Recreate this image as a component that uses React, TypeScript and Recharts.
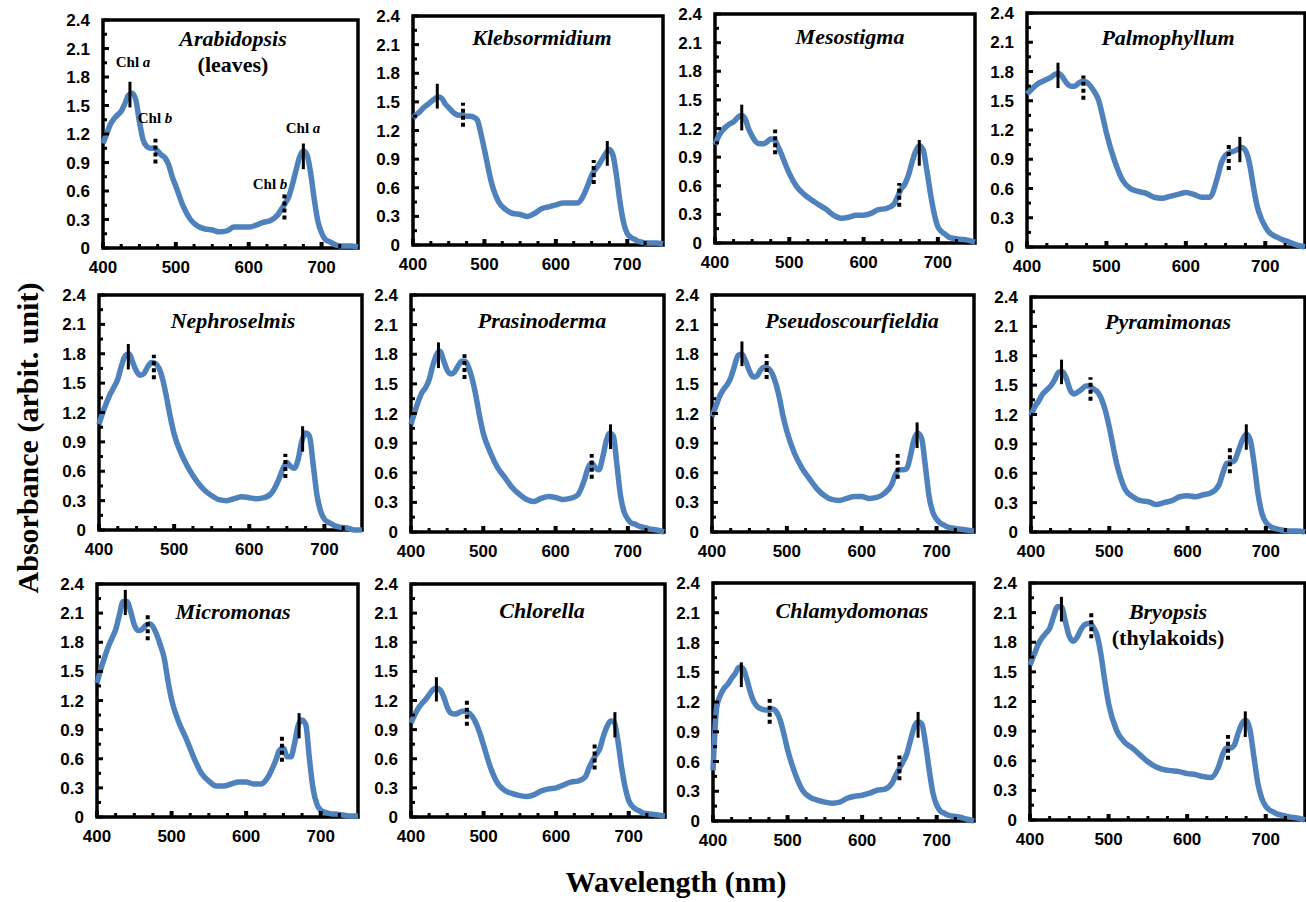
import React from 'react';
import { LineChart, Line, XAxis, YAxis, ReferenceArea, ReferenceLine } from 'recharts';

document.body.style.margin = '0';

// wavelength grid (nm) shared by every spectrum
const wavelengths = [
  400, 405, 410, 415, 420, 425, 430, 435, 440, 445, 450, 455, 460, 465, 470, 475, 480, 485, 490, 495, 500,
  510, 520, 530, 540, 550, 560, 570, 580, 590, 600, 610, 620, 630, 640,
  645, 650, 655, 660, 665, 670, 675, 680, 685, 690, 695, 700, 705, 710, 715, 720,
  730, 740, 750,
];

const arabidopsis = [
  1.10, 1.20, 1.30, 1.36, 1.40, 1.44, 1.52, 1.61, 1.63, 1.56, 1.33, 1.14, 1.07, 1.05, 1.05, 1.02, 0.98, 0.95, 0.88, 0.75, 0.65,
  0.44, 0.30, 0.23, 0.20, 0.19, 0.17, 0.18, 0.22, 0.22, 0.22, 0.24, 0.27, 0.29, 0.35,
  0.41, 0.47, 0.54, 0.67, 0.82, 0.96, 1.02, 0.98, 0.79, 0.51, 0.28, 0.16, 0.09, 0.07, 0.05, 0.03,
  0.02, 0.02, 0.01,
];
const klebsormidium = [
  1.33, 1.37, 1.40, 1.44, 1.47, 1.50, 1.53, 1.55, 1.54, 1.48, 1.44, 1.40, 1.37, 1.36, 1.36, 1.35, 1.35, 1.34, 1.31, 1.17, 1.00,
  0.65, 0.45, 0.37, 0.33, 0.32, 0.30, 0.33, 0.38, 0.40, 0.42, 0.44, 0.44, 0.44, 0.54,
  0.63, 0.73, 0.79, 0.84, 0.90, 0.96, 1.00, 0.94, 0.72, 0.44, 0.23, 0.12, 0.08, 0.06, 0.04, 0.03,
  0.02, 0.02, 0.01,
];
const mesostigma = [
  1.03, 1.12, 1.18, 1.22, 1.25, 1.27, 1.31, 1.34, 1.31, 1.20, 1.12, 1.06, 1.04, 1.04, 1.06, 1.09, 1.08, 1.01, 0.92, 0.82, 0.73,
  0.59, 0.51, 0.45, 0.40, 0.35, 0.29, 0.26, 0.27, 0.29, 0.29, 0.31, 0.35, 0.36, 0.40,
  0.47, 0.56, 0.61, 0.70, 0.84, 0.96, 1.02, 0.98, 0.77, 0.52, 0.31, 0.17, 0.12, 0.09, 0.06, 0.05,
  0.04, 0.03, 0.01,
];
const palmophyllum = [
  1.57, 1.61, 1.65, 1.68, 1.70, 1.72, 1.74, 1.77, 1.78, 1.74, 1.68, 1.65, 1.65, 1.68, 1.70, 1.69, 1.65, 1.59, 1.51, 1.35, 1.17,
  0.89, 0.69, 0.60, 0.57, 0.55, 0.51, 0.50, 0.52, 0.54, 0.56, 0.54, 0.51, 0.51, 0.72,
  0.87, 0.94, 0.97, 0.98, 1.00, 1.02, 0.99, 0.86, 0.62, 0.41, 0.29, 0.21, 0.15, 0.12, 0.10, 0.08,
  0.05, 0.02, 0.00,
];
const nephroselmis = [
  1.08, 1.20, 1.30, 1.39, 1.46, 1.54, 1.68, 1.78, 1.80, 1.71, 1.62, 1.58, 1.60, 1.67, 1.71, 1.70, 1.65, 1.53, 1.35, 1.15, 0.98,
  0.77, 0.62, 0.50, 0.41, 0.35, 0.31, 0.30, 0.32, 0.34, 0.33, 0.32, 0.33, 0.38, 0.53,
  0.63, 0.69, 0.65, 0.63, 0.72, 0.91, 0.99, 0.96, 0.67, 0.36, 0.19, 0.11, 0.08, 0.06, 0.04, 0.03,
  0.02, 0.00, 0.00,
];
const prasinoderma = [
  1.09, 1.21, 1.32, 1.41, 1.46, 1.54, 1.68, 1.79, 1.83, 1.74, 1.64, 1.60, 1.62, 1.68, 1.73, 1.73, 1.66, 1.54, 1.37, 1.17, 1.00,
  0.80, 0.65, 0.55, 0.45, 0.38, 0.33, 0.31, 0.34, 0.36, 0.35, 0.33, 0.34, 0.37, 0.53,
  0.65, 0.70, 0.65, 0.63, 0.75, 0.92, 1.00, 0.97, 0.67, 0.36, 0.20, 0.13, 0.09, 0.08, 0.06, 0.05,
  0.03, 0.02, 0.00,
];
const pseudoscourfieldia = [
  1.17, 1.27, 1.37, 1.44, 1.49, 1.56, 1.68, 1.79, 1.80, 1.73, 1.63, 1.57, 1.58, 1.64, 1.67, 1.66, 1.61, 1.51, 1.36, 1.17, 1.02,
  0.80, 0.65, 0.54, 0.44, 0.37, 0.33, 0.32, 0.34, 0.36, 0.36, 0.34, 0.35, 0.39, 0.48,
  0.58, 0.63, 0.63, 0.64, 0.77, 0.94, 1.00, 0.95, 0.67, 0.36, 0.20, 0.13, 0.09, 0.07, 0.05, 0.04,
  0.03, 0.02, 0.01,
];
const pyramimonas = [
  1.19, 1.28, 1.34, 1.41, 1.45, 1.49, 1.55, 1.63, 1.64, 1.57, 1.45, 1.41, 1.43, 1.46, 1.49, 1.49, 1.46, 1.43, 1.36, 1.24, 1.07,
  0.68, 0.44, 0.36, 0.32, 0.31, 0.28, 0.30, 0.32, 0.36, 0.37, 0.36, 0.38, 0.40, 0.48,
  0.60, 0.70, 0.71, 0.73, 0.83, 0.94, 1.00, 0.94, 0.70, 0.39, 0.19, 0.10, 0.06, 0.04, 0.03, 0.02,
  0.01, 0.01, 0.00,
];
const micromonas = [
  1.38, 1.52, 1.64, 1.75, 1.84, 1.93, 2.08, 2.22, 2.22, 2.12, 1.98, 1.92, 1.93, 1.97, 1.99, 1.96, 1.88, 1.77, 1.64, 1.41, 1.21,
  0.97, 0.80, 0.61, 0.45, 0.37, 0.32, 0.32, 0.34, 0.36, 0.36, 0.34, 0.34, 0.42, 0.59,
  0.69, 0.71, 0.62, 0.62, 0.76, 0.95, 1.00, 0.95, 0.59, 0.28, 0.13, 0.07, 0.05, 0.04, 0.03, 0.03,
  0.02, 0.01, 0.01,
];
const chlorella = [
  0.97, 1.05, 1.12, 1.17, 1.21, 1.26, 1.31, 1.33, 1.31, 1.24, 1.13, 1.07, 1.06, 1.07, 1.09, 1.09, 1.07, 1.03, 0.96, 0.86, 0.74,
  0.50, 0.34, 0.27, 0.24, 0.22, 0.21, 0.23, 0.27, 0.29, 0.30, 0.33, 0.36, 0.37, 0.41,
  0.50, 0.58, 0.64, 0.70, 0.83, 0.93, 0.99, 0.98, 0.79, 0.52, 0.31, 0.17, 0.11, 0.08, 0.06, 0.04,
  0.03, 0.02, 0.01,
];
const chlamydomonas = [
  0.51, 1.15, 1.27, 1.34, 1.38, 1.44, 1.49, 1.55, 1.54, 1.44, 1.30, 1.20, 1.15, 1.13, 1.12, 1.12, 1.13, 1.10, 1.02, 0.88, 0.72,
  0.48, 0.31, 0.24, 0.21, 0.19, 0.18, 0.19, 0.23, 0.25, 0.26, 0.28, 0.31, 0.32, 0.38,
  0.46, 0.53, 0.60, 0.68, 0.82, 0.95, 1.00, 0.98, 0.78, 0.51, 0.28, 0.16, 0.10, 0.08, 0.06, 0.05,
  0.04, 0.02, 0.00,
];
const bryopsis = [
  1.57, 1.67, 1.77, 1.84, 1.89, 1.94, 2.06, 2.16, 2.16, 2.01, 1.86, 1.81, 1.85, 1.93, 1.98, 1.99, 1.96, 1.88, 1.69, 1.42, 1.18,
  0.91, 0.79, 0.73, 0.66, 0.59, 0.54, 0.51, 0.50, 0.49, 0.47, 0.46, 0.44, 0.43, 0.54,
  0.66, 0.73, 0.73, 0.76, 0.88, 0.98, 1.01, 0.91, 0.64, 0.37, 0.22, 0.14, 0.10, 0.08, 0.06, 0.05,
  0.03, 0.02, 0.00,
];

// peak markers: [wavelength, low, high, dotted(1) = Chl b]
type Marker = [number, number, number, number];
const arabidopsisMarks: Marker[] = [[437, 1.48, 1.75, 0], [472, 0.89, 1.15, 1], [649, 0.30, 0.57, 1], [675, 0.83, 1.10, 0]];
const klebsormidiumMarks: Marker[] = [[434, 1.43, 1.69, 0], [470, 1.24, 1.49, 1], [653, 0.64, 0.89, 1], [672, 0.83, 1.09, 0]];
const mesostigmaMarks: Marker[] = [[436, 1.18, 1.45, 0], [481, 0.93, 1.19, 1], [648, 0.38, 0.63, 1], [675, 0.81, 1.08, 0]];
const palmophyllumMarks: Marker[] = [[439, 1.63, 1.89, 0], [471, 1.51, 1.76, 1], [654, 0.79, 1.05, 1], [668, 0.87, 1.13, 0]];
const nephroselmisMarks: Marker[] = [[439, 1.64, 1.90, 0], [473, 1.54, 1.79, 1], [648, 0.53, 0.78, 1], [671, 0.80, 1.06, 0]];
const prasinodermaMarks: Marker[] = [[438, 1.66, 1.92, 0], [474, 1.55, 1.80, 1], [650, 0.54, 0.79, 1], [676, 0.84, 1.09, 0]];
const pseudoscourfieldiaMarks: Marker[] = [[440, 1.68, 1.93, 0], [473, 1.55, 1.80, 1], [648, 0.54, 0.79, 1], [674, 0.85, 1.11, 0]];
const pyramimonasMarks: Marker[] = [[439, 1.51, 1.76, 0], [476, 1.34, 1.58, 1], [654, 0.60, 0.86, 1], [675, 0.84, 1.10, 0]];
const micromonasMarks: Marker[] = [[438, 2.08, 2.34, 0], [468, 1.82, 2.08, 1], [648, 0.57, 0.83, 1], [671, 0.81, 1.07, 0]];
const chlorellaMarks: Marker[] = [[435, 1.19, 1.44, 0], [477, 0.94, 1.20, 1], [653, 0.49, 0.75, 1], [681, 0.82, 1.08, 0]];
const chlamydomonasMarks: Marker[] = [[438, 1.35, 1.60, 0], [476, 0.98, 1.23, 1], [650, 0.41, 0.66, 1], [675, 0.84, 1.10, 0]];
const bryopsisMarks: Marker[] = [[440, 2.01, 2.26, 0], [478, 1.84, 2.10, 1], [652, 0.61, 0.86, 1], [674, 0.84, 1.10, 0]];

const xTicks = [400, 425, 450, 475, 500, 525, 550, 575, 600, 625, 650, 675, 700, 725];
const yTicks = [0, 0.15, 0.3, 0.45, 0.6, 0.75, 0.9, 1.05, 1.2, 1.35, 1.5, 1.65, 1.8, 1.95, 2.1, 2.25, 2.4];

// layout: plot box [left, top, right, bottom] and title centre in page pixels
const panels = [
  { name: 'Arabidopsis', sub: '(leaves)', values: arabidopsis, marks: arabidopsisMarks, box: [103, 20, 358, 248], t: [233, 39] },
  { name: 'Klebsormidium', values: klebsormidium, marks: klebsormidiumMarks, box: [413, 16, 663, 245], t: [542, 38] },
  { name: 'Mesostigma', values: mesostigma, marks: mesostigmaMarks, box: [715, 14, 975, 243], t: [850, 37] },
  { name: 'Palmophyllum', values: palmophyllum, marks: palmophyllumMarks, box: [1027, 13, 1305, 247], t: [1168, 38] },
  { name: 'Nephroselmis', values: nephroselmis, marks: nephroselmisMarks, box: [99, 295, 362, 530], t: [233, 321] },
  { name: 'Prasinoderma', values: prasinoderma, marks: prasinodermaMarks, box: [411, 295, 664, 532], t: [542, 321] },
  { name: 'Pseudoscourfieldia', values: pseudoscourfieldia, marks: pseudoscourfieldiaMarks, box: [712, 295, 974, 532], t: [852, 321] },
  { name: 'Pyramimonas', values: pyramimonas, marks: pyramimonasMarks, box: [1031, 297, 1305, 532], t: [1168, 322] },
  { name: 'Micromonas', values: micromonas, marks: micromonasMarks, box: [97, 584, 358, 817], t: [233, 612] },
  { name: 'Chlorella', values: chlorella, marks: chlorellaMarks, box: [411, 584, 665, 817], t: [542, 611] },
  { name: 'Chlamydomonas', values: chlamydomonas, marks: chlamydomonasMarks, box: [713, 583, 974, 821], t: [852, 611] },
  { name: 'Bryopsis', sub: '(thylakoids)', values: bryopsis, marks: bryopsisMarks, box: [1030, 583, 1305, 820], t: [1168, 612] },
];

const PAD_L = 64;
const PAD_T = 10;
const PAD_R = 6;
const PAD_B = 36;

const serif = '"Liberation Serif", "Times New Roman", serif';
const sans = '"Liberation Sans", Arial, sans-serif';

const renderXTick = (props: any) => {
  const { x, y, payload } = props;
  const major = payload.value % 100 === 0;
  return (
    <g>
      <line x1={x} x2={x} y1={y} y2={y - (major ? 6 : 4)} stroke="#000" strokeWidth={major ? 4 : 3} />
      {major && (
        <text x={x} y={y + 25} textAnchor="middle" fontFamily={sans} fontWeight="bold" fontSize={17} fill="#000">
          {payload.value}
        </text>
      )}
    </g>
  );
};

const renderYTick = (props: any) => {
  const { x, y, payload } = props;
  const major = Math.round(payload.value * 100) % 30 === 0;
  const label = payload.value === 0 ? '0' : payload.value.toFixed(1);
  return (
    <g>
      <line x1={x} x2={x + (major ? 6 : 4)} y1={y} y2={y} stroke="#000" strokeWidth={3} />
      {major && (
        <text x={x - 13} y={y + 6} textAnchor="end" fontFamily={sans} fontWeight="bold" fontSize={17} fill="#000">
          {label}
        </text>
      )}
    </g>
  );
};

function Panel({ p }: { p: any }) {
  const [l, t, r, b] = p.box;
  const w = r - l;
  const h = b - t;
  const data = wavelengths.map((nm, i) => ({ nm, a: p.values[i] }));
  return (
    <div style={{ position: 'absolute', left: l - PAD_L, top: t - PAD_T }}>
      <LineChart
        width={w + PAD_L + PAD_R}
        height={h + PAD_T + PAD_B}
        data={data}
        margin={{ top: PAD_T, right: PAD_R, left: 0, bottom: 0 }}
      >
        <XAxis
          type="number"
          dataKey="nm"
          domain={[400, 750]}
          ticks={xTicks}
          tick={renderXTick}
          tickSize={0}
          tickMargin={0}
          axisLine={false}
          tickLine={false}
          height={PAD_B}
          interval={0}
        />
        <YAxis
          type="number"
          domain={[0, 2.4]}
          ticks={yTicks}
          tick={renderYTick}
          tickSize={0}
          tickMargin={0}
          axisLine={false}
          tickLine={false}
          width={PAD_L}
          interval={0}
        />
        <Line type="monotone" dataKey="a" stroke="#4F81BD" strokeWidth={5.5} dot={false} isAnimationActive={false} />
        {p.marks.map((m: Marker, i: number) => (
          <ReferenceLine
            key={i}
            segment={[{ x: m[0], y: m[1] }, { x: m[0], y: m[2] }]}
            stroke="#000"
            strokeWidth={m[3] ? 4 : 3}
            strokeDasharray={m[3] ? '4 3' : undefined}
            ifOverflow="visible"
          />
        ))}
        <ReferenceArea x1={400} x2={750} y1={0} y2={2.4} fill="none" fillOpacity={0} stroke="#000" strokeWidth={3.5} ifOverflow="visible" />
      </LineChart>
    </div>
  );
}

const titleStyle: React.CSSProperties = {
  position: 'absolute',
  transform: 'translate(-50%, -50%)',
  whiteSpace: 'nowrap',
  fontFamily: serif,
  fontWeight: 'bold',
  fontSize: 22,
  lineHeight: 1,
  color: '#000',
};

const chlStyle: React.CSSProperties = { ...titleStyle, fontSize: 15 };

export default function App() {
  return (
    <div style={{ position: 'relative', width: 1306, height: 902, background: '#fff', overflow: 'hidden' }}>
      {panels.map((p) => (
        <Panel key={p.name} p={p} />
      ))}
      {panels.map((p) => (
        <React.Fragment key={p.name + '-t'}>
          <div style={{ ...titleStyle, left: p.t[0], top: p.t[1], fontStyle: 'italic' }}>{p.name}</div>
          {p.sub && <div style={{ ...titleStyle, left: p.t[0], top: p.t[1] + 26 }}>{p.sub}</div>}
        </React.Fragment>
      ))}
      <div style={{ ...chlStyle, left: 133, top: 62 }}>Chl <i>a</i></div>
      <div style={{ ...chlStyle, left: 155, top: 118 }}>Chl <i>b</i></div>
      <div style={{ ...chlStyle, left: 270, top: 184 }}>Chl <i>b</i></div>
      <div style={{ ...chlStyle, left: 303, top: 128 }}>Chl <i>a</i></div>
      <div
        style={{
          ...titleStyle,
          fontSize: 30,
          left: 28,
          top: 438,
          transform: 'translate(-50%, -50%) rotate(-90deg)',
        }}
      >
        Absorbance (arbit. unit)
      </div>
      <div style={{ ...titleStyle, fontSize: 30, left: 676, top: 882 }}>Wavelength (nm)</div>
    </div>
  );
}
